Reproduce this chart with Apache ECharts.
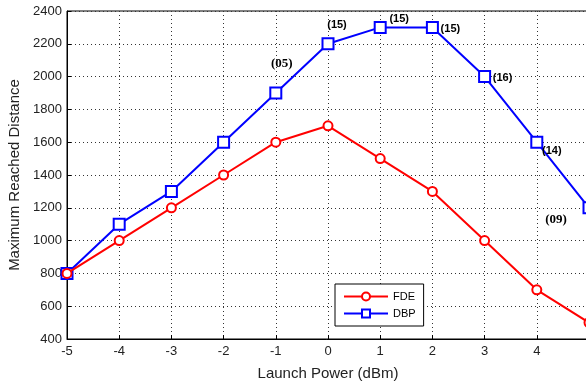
<!DOCTYPE html>
<html>
<head>
<meta charset="utf-8">
<script src="https://cdn.jsdelivr.net/npm/echarts@6/dist/echarts.min.js"></script>
<style>
  html, body { margin: 0; padding: 0; background: #fff; }
  #chart { width: 586px; height: 386px; }
</style>
</head>
<body>
<div id="chart"></div>
<script>
var power = [-5, -4, -3, -2, -1, 0, 1, 2, 3, 4, 5];
var fde = [800, 1000, 1200, 1400, 1600, 1700, 1500, 1300, 1000, 700, 500];
var dbp = [800, 1100, 1300, 1600, 1900, 2200, 2300, 2300, 2000, 1600, 1200];
var dbpNotes = ['', '', '', '', '(05)', '(15)', '(15)', '(15)', '(16)', '(14)', '(09)'];

// where each note sits relative to its point
var noteOffset = {
	4: [6, -29], 5: [9, -19], 6: [19, -8], 7: [18, 2],
	8: [18, 1], 9: [15, 9], 10: [-33, 12]
};
var serifNotes = { 4: true, 10: true };

var chart = echarts.init(document.getElementById('chart'));

var dbpData = dbp.map(function(v, i){
	var item = { value: [power[i], v] };
	if(dbpNotes[i]){
		item.label = {
			show: true,
			formatter: dbpNotes[i],
			position: 'inside',
			offset: noteOffset[i],
			color: '#000',
			fontWeight: 'bold',
			fontSize: serifNotes[i] ? 13 : 11,
			fontFamily: serifNotes[i] ? '"Liberation Serif", serif' : '"Liberation Sans", Arial, sans-serif'
		};
	}
	return item;
});

var fdeData = fde.map(function(v, i){ return [power[i], v]; });

var option = {
	animation: false,
	textStyle: { fontFamily: '"Liberation Sans", Arial, sans-serif' },
	grid: {
		left: 67,
		top: 11,
		width: 522,
		height: 328,
		outerBoundsMode: 'none',
		containLabel: false,
		show: true,
		borderColor: '#000',
		borderWidth: 1
	},
	legend: {
		orient: 'vertical',
		left: 335,
		top: 284,
		itemWidth: 44,
		itemHeight: 10,
		itemGap: 6,
		padding: [7, 8, 7, 8],
		borderColor: '#000',
		borderWidth: 1,
		backgroundColor: '#fff',
		textStyle: { fontSize: 11, color: '#000' },
		data: ['FDE', 'DBP']
	},
	xAxis: {
		type: 'value',
		min: -5,
		max: 5,
		interval: 1,
		name: 'Launch Power (dBm)',
		nameLocation: 'middle',
		nameGap: 27,
		nameTextStyle: { fontSize: 15, color: '#222' },
		axisLine: { onZero: false, lineStyle: { color: '#000', width: 1 } },
		axisTick: { inside: true, length: 4, lineStyle: { color: '#000' } },
		axisLabel: { fontSize: 13, color: '#222', margin: 6, showMaxLabel: true, showMinLabel: true, hideOverlap: false },
		splitLine: { lineStyle: { color: '#333', type: [1, 3], width: 1 } }
	},
	yAxis: {
		type: 'value',
		min: 400,
		max: 2400,
		interval: 200,
		name: 'Maximum Reached Distance',
		nameLocation: 'middle',
		nameGap: 45,
		nameTextStyle: { fontSize: 15, color: '#222' },
		axisLine: { show: true, onZero: false, lineStyle: { color: '#000', width: 1 } },
		axisTick: { show: true, inside: true, length: 4, lineStyle: { color: '#000' } },
		axisLabel: { fontSize: 13, color: '#222', margin: 5, formatter: function(v){ return String(v); } },
		splitLine: { lineStyle: { color: '#333', type: [1, 3], width: 1 } }
	},
	series: [
		{
			name: 'FDE',
			type: 'line',
			data: fdeData,
			symbol: 'emptyCircle',
			symbolSize: 9,
			color: '#ff0000',
			lineStyle: { width: 2, color: '#ff0000' },
			itemStyle: { borderWidth: 1.5 },
			z: 3
		},
		{
			name: 'DBP',
			type: 'line',
			data: dbpData,
			symbol: 'emptyRect',
			symbolSize: 11,
			color: '#0000ff',
			lineStyle: { width: 2, color: '#0000ff' },
			itemStyle: { borderWidth: 2 },
			z: 2
		}
	]
};

chart.setOption(option);
</script>
</body>
</html>
